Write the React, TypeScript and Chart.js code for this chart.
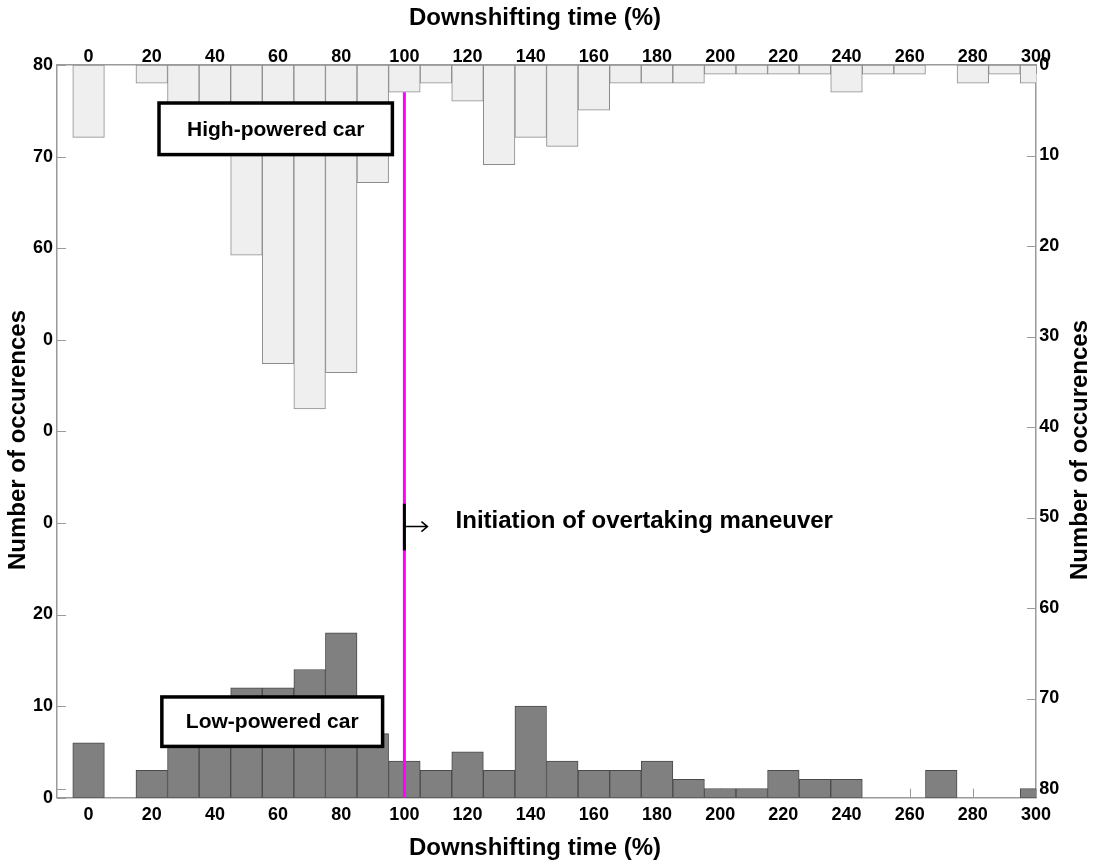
import React, { useEffect, useRef } from "react";
import { Chart, registerables } from "chart.js";

Chart.register(...registerables);

// ---- data ----
const bins = [0, 10, 20, 30, 40, 50, 60, 70, 80, 90, 100, 110, 120, 130, 140, 150, 160, 170, 180, 190, 200, 210, 220, 230, 240, 250, 260, 270, 280, 290, 300];
const lowPowered = [6, 0, 3, 8, 9, 12, 12, 14, 18, 7, 4, 3, 5, 3, 10, 4, 3, 3, 4, 2, 1, 1, 3, 2, 2, 0, 0, 3, 0, 0, 1];
const highPowered = [8, 0, 2, 6, 8, 21, 33, 38, 34, 13, 3, 2, 4, 11, 8, 9, 5, 2, 2, 2, 1, 1, 1, 1, 3, 1, 1, 0, 2, 1, 2];
const xTicks = [0, 20, 40, 60, 80, 100, 120, 140, 160, 180, 200, 220, 240, 260, 280, 300];
const leftTicks = [0, 10, 20, 30, 40, 50, 60, 70, 80];
const leftTickLabels = ["0", "10", "20", "0", "0", "0", "60", "70", "80"];
const rightTicks = [0, 10, 20, 30, 40, 50, 60, 70, 80];

const xTitle = "Downshifting time (%)";
const yTitle = "Number of occurences";
const highLabel = "High-powered car";
const lowLabel = "Low-powered car";
const eventLabel = "Initiation of overtaking maneuver";
const eventX = 100;

const FONT = "'Liberation Sans', Arial, Helvetica, sans-serif";
const AXIS_COLOR = "#9a9a9a";

const overlayPlugin = {
  id: "overlay",
  beforeDatasetsDraw(chart: any) {
    const { ctx, chartArea, scales } = chart;
    const { x, y, y2 } = scales;
    const L = 9;
    ctx.save();
    ctx.strokeStyle = AXIS_COLOR;
    ctx.lineWidth = 1;
    ctx.beginPath();
    xTicks.forEach((v) => {
      const px = Math.round(x.getPixelForValue(v)) + 0.5;
      ctx.moveTo(px, chartArea.bottom);
      ctx.lineTo(px, chartArea.bottom - L);
      ctx.moveTo(px, chartArea.top);
      ctx.lineTo(px, chartArea.top + L);
    });
    leftTicks.forEach((v) => {
      const py = Math.round(y.getPixelForValue(v)) + 0.5;
      ctx.moveTo(chartArea.left, py);
      ctx.lineTo(chartArea.left + L, py);
    });
    rightTicks.forEach((v) => {
      const py = Math.round(y2.getPixelForValue(v)) + 0.5;
      ctx.moveTo(chartArea.right, py);
      ctx.lineTo(chartArea.right - L, py);
    });
    const pyLast = Math.round(y2.getPixelForValue(rightTicks[rightTicks.length - 1])) + 0.5;
    ctx.moveTo(chartArea.left, pyLast);
    ctx.lineTo(chartArea.left + L, pyLast);
    ctx.stroke();
    ctx.restore();
  },
  afterDatasetsDraw(chart: any) {
    const { ctx, chartArea, scales } = chart;
    const { x, y, y2 } = scales;
    ctx.save();
    const mx = x.getPixelForValue(eventX);
    const topVal = highPowered[bins.indexOf(eventX)];
    ctx.strokeStyle = "#ff00ff";
    ctx.lineWidth = 3;
    ctx.beginPath();
    ctx.moveTo(mx, y2.getPixelForValue(topVal));
    ctx.lineTo(mx, chartArea.bottom);
    ctx.stroke();

    ctx.strokeStyle = "#000";
    ctx.lineWidth = 3;
    ctx.beginPath();
    ctx.moveTo(mx, y.getPixelForValue(32.1));
    ctx.lineTo(mx, y.getPixelForValue(27.0));
    ctx.stroke();
    const ay = y.getPixelForValue(29.6);
    const ax2 = x.getPixelForValue(107.3);
    ctx.lineWidth = 1.5;
    ctx.beginPath();
    ctx.moveTo(mx, ay);
    ctx.lineTo(ax2, ay);
    ctx.moveTo(ax2 - 6, ay - 5);
    ctx.lineTo(ax2, ay);
    ctx.lineTo(ax2 - 6, ay + 5);
    ctx.stroke();
    ctx.fillStyle = "#000";
    ctx.font = `bold 24px ${FONT}`;
    ctx.textAlign = "left";
    ctx.textBaseline = "middle";
    ctx.fillText(eventLabel, x.getPixelForValue(116.2), y.getPixelForValue(30.2));

    const drawBox = (x0: number, x1: number, yTop: number, yBot: number, text: string) => {
      ctx.fillStyle = "#fff";
      ctx.fillRect(x0, yTop, x1 - x0, yBot - yTop);
      ctx.strokeStyle = "#000";
      ctx.lineWidth = 3.5;
      ctx.strokeRect(x0, yTop, x1 - x0, yBot - yTop);
      ctx.fillStyle = "#000";
      ctx.font = `bold 21px ${FONT}`;
      ctx.textAlign = "center";
      ctx.textBaseline = "middle";
      ctx.fillText(text, (x0 + x1) / 2, (yTop + yBot) / 2 + 1);
    };
    drawBox(x.getPixelForValue(22.3), x.getPixelForValue(96.2), y2.getPixelForValue(4.2), y2.getPixelForValue(9.9), highLabel);
    drawBox(x.getPixelForValue(23.2), x.getPixelForValue(93.1), y.getPixelForValue(11.0), y.getPixelForValue(5.6), lowLabel);
    ctx.restore();
  },
  afterDraw(chart: any) {
    const { ctx } = chart;
    ctx.save();
    ctx.fillStyle = "#000";
    ctx.font = `bold 24px ${FONT}`;
    ctx.textAlign = "center";
    ctx.textBaseline = "middle";
    ctx.fillText(xTitle, 535, 18);
    ctx.fillText(xTitle, 535, 848);
    ctx.save();
    ctx.translate(18, 440);
    ctx.rotate(-Math.PI / 2);
    ctx.fillText(yTitle, 0, 0);
    ctx.restore();
    ctx.save();
    ctx.translate(1080, 450);
    ctx.rotate(-Math.PI / 2);
    ctx.fillText(yTitle, 0, 0);
    ctx.restore();
    ctx.restore();
  },
};

export default function App() {
  const ref = useRef<HTMLCanvasElement>(null);
  useEffect(() => {
    if (!ref.current) return;
    Chart.defaults.font.family = FONT;
    const tickFont = { family: FONT, size: 18, weight: "bold" as const };
    const barCommon = {
      borderWidth: 1,
      borderSkipped: false,
      barPercentage: 1,
      categoryPercentage: 1,
      grouped: false,
      clip: 0,
    };
    const chart = new Chart(ref.current, {
      type: "bar",
      data: {
        datasets: [
          {
            label: lowLabel,
            data: bins.map((b, i) => ({ x: b, y: lowPowered[i] })),
            xAxisID: "x",
            yAxisID: "y",
            backgroundColor: "#808080",
            borderColor: "#4a4a4a",
            ...barCommon,
          } as any,
          {
            label: highLabel,
            data: bins.map((b, i) => ({ x: b, y: highPowered[i] })),
            xAxisID: "x",
            yAxisID: "y2",
            backgroundColor: "#efefef",
            borderColor: "#8c8c8c",
            ...barCommon,
          } as any,
        ],
      },
      options: {
        animation: false,
        responsive: false,
        devicePixelRatio: 1,
        layout: { padding: 0 },
        plugins: { legend: { display: false }, tooltip: { enabled: false } },
        scales: {
          x: {
            type: "linear",
            position: "bottom",
            offset: false,
            min: -10,
            max: 300,
            grid: { display: false, drawTicks: false, offset: false },
            border: { display: true, color: AXIS_COLOR, width: 1.5 },
            afterBuildTicks: (s: any) => {
              s.ticks = xTicks.map((v) => ({ value: v }));
            },
            afterFit: (s: any) => {
              s.height = 67.3;
            },
            ticks: { font: tickFont, color: "#000", padding: 6.5, maxRotation: 0, autoSkip: false },
          },
          x2: {
            type: "linear",
            axis: "x",
            position: "top",
            offset: false,
            min: -10,
            max: 300,
            grid: { display: false, drawTicks: false, offset: false },
            border: { display: true, color: AXIS_COLOR, width: 1.5 },
            afterBuildTicks: (s: any) => {
              s.ticks = xTicks.map((v) => ({ value: v }));
            },
            afterFit: (s: any) => {
              s.height = 65;
            },
            ticks: { font: tickFont, color: "#000", padding: -2.5, maxRotation: 0, autoSkip: false },
          },
          y: {
            type: "linear",
            position: "left",
            min: 0,
            max: 80,
            grid: { display: false, drawTicks: false },
            border: { display: true, color: AXIS_COLOR, width: 1.5 },
            afterBuildTicks: (s: any) => {
              s.ticks = leftTicks.map((v) => ({ value: v }));
            },
            afterFit: (s: any) => {
              s.width = 57;
            },
            ticks: {
              font: tickFont,
              color: "#000",
              padding: 4,
              callback: (v: any) => leftTickLabels[leftTicks.indexOf(Number(v))],
            },
          },
          y2: {
            type: "linear",
            position: "right",
            reverse: true,
            min: 0,
            max: 80.96,
            grid: { display: false, drawTicks: false },
            border: { display: true, color: AXIS_COLOR, width: 1.5 },
            afterBuildTicks: (s: any) => {
              s.ticks = rightTicks.map((v) => ({ value: v }));
            },
            afterFit: (s: any) => {
              s.width = 61;
            },
            ticks: { font: tickFont, color: "#000", padding: 3.3 },
          },
        },
      } as any,
      plugins: [overlayPlugin],
    });
    return () => chart.destroy();
  }, []);
  return (
    <div style={{ position: "absolute", left: 0, top: 0, width: 1097, height: 865, background: "#fff" }}>
      <canvas ref={ref} width={1097} height={865} style={{ display: "block", width: 1097, height: 865 }} />
    </div>
  );
}
